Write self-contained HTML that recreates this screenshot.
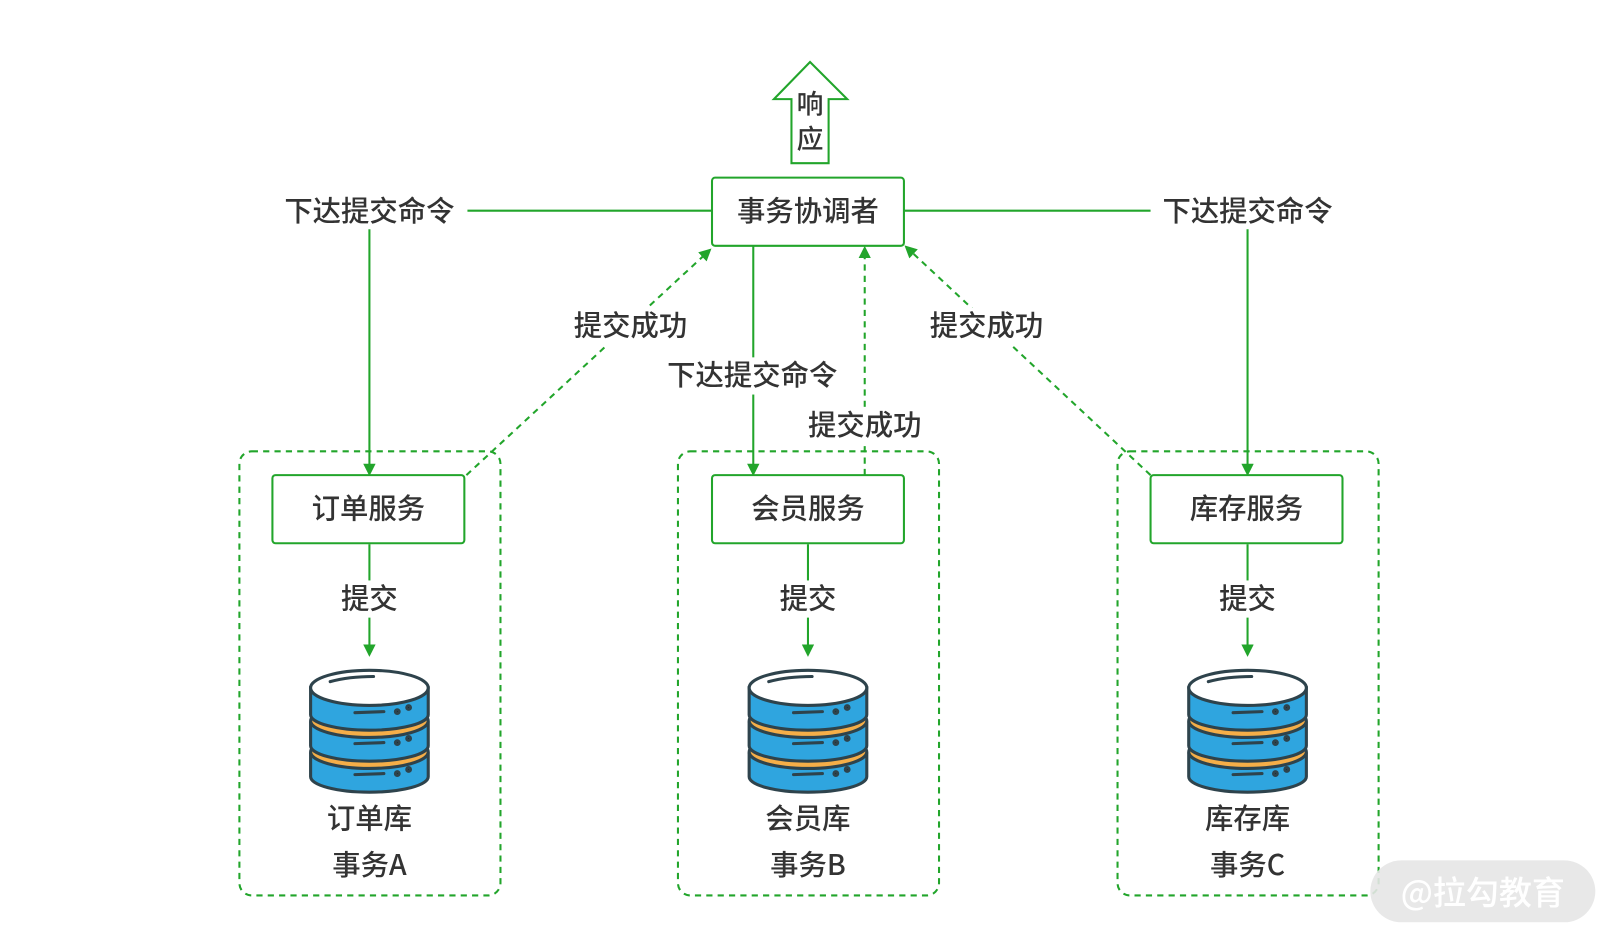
<!DOCTYPE html>
<html><head><meta charset="utf-8"><style>
html,body{margin:0;padding:0;background:#fff;}
svg{display:block;}
text{font-family:"Noto Sans CJK SC","Liberation Sans",sans-serif;fill:#333;font-weight:500;}
</style></head><body>
<svg width="1618" height="944" viewBox="0 0 1568 914" preserveAspectRatio="none" xmlns="http://www.w3.org/2000/svg">
<defs>
<marker id="ar" markerWidth="12" markerHeight="12" refX="10" refY="6" orient="auto" markerUnits="userSpaceOnUse">
<path d="M0,0 L12,6 L0,12 Z" fill="#22a52b"/>
</marker>
<g id="db" stroke="#2e434c" stroke-width="3">
<path d="M-57,82 L-57,104 A57,15 0 0 0 57,104 L57,82 Z" fill="#2fa5df"/>
<ellipse cx="0" cy="80" rx="57" ry="16" fill="#f5ae48"/>
<path d="M-57,52 L-57,74 A57,15 0 0 0 57,74 L57,52 Z" fill="#2fa5df"/>
<ellipse cx="0" cy="50" rx="57" ry="16" fill="#f5ae48"/>
<path d="M-57,18 L-57,44 A57,15 0 0 0 57,44 L57,18 Z" fill="#2fa5df"/>
<ellipse cx="0" cy="18" rx="57" ry="17" fill="#fff"/>
<path d="M-38,12 Q-20,7 4,7" fill="none" stroke-linecap="round"/>
<path d="M-14,42 L14,41 M-14,72 L14,71 M-14,102 L14,101" fill="none" stroke-linecap="round"/>
<circle cx="27" cy="41" r="1.8"/><circle cx="38" cy="37" r="1.8"/>
<circle cx="27" cy="71" r="1.8"/><circle cx="38" cy="67" r="1.8"/>
<circle cx="27" cy="101" r="1.8"/><circle cx="38" cy="97" r="1.8"/>
</g>
</defs>
<g fill="none" stroke="#22a52b" stroke-width="2">
<path d="M785,60 L821,96 L803,96 L803,158 L767,158 L767,96 L750,96 Z" fill="#fff"/>
<rect x="690" y="172" width="186" height="66" rx="3" fill="#fff"/>
<line x1="453" y1="204" x2="690" y2="204"/>
<line x1="876" y1="204" x2="1115" y2="204"/>
<line x1="358" y1="222" x2="358" y2="459" marker-end="url(#ar)"/>
<line x1="1209" y1="222" x2="1209" y2="459" marker-end="url(#ar)"/>
<line x1="730" y1="238" x2="730" y2="459" marker-end="url(#ar)"/>
<g stroke-dasharray="6,5">
<line x1="838" y1="460" x2="838" y2="240" marker-end="url(#ar)"/>
<line x1="452" y1="460" x2="688" y2="242" marker-end="url(#ar)"/>
<line x1="1115" y1="460" x2="878" y2="239" marker-end="url(#ar)"/>
<rect x="232" y="437" width="253" height="430" rx="12"/>
<rect x="657" y="437" width="253" height="430" rx="12"/>
<rect x="1083" y="437" width="253" height="430" rx="12"/>
</g>
<rect x="264" y="460" width="186" height="66" rx="3" fill="#fff"/>
<rect x="690" y="460" width="186" height="66" rx="3" fill="#fff"/>
<rect x="1115" y="460" width="186" height="66" rx="3" fill="#fff"/>
<line x1="358" y1="527" x2="358" y2="634" marker-end="url(#ar)"/>
<line x1="783" y1="527" x2="783" y2="634" marker-end="url(#ar)"/>
<line x1="1209" y1="527" x2="1209" y2="634" marker-end="url(#ar)"/>
</g>
<g fill="#fff">
<rect x="553" y="298" width="116" height="36"/>
<rect x="898" y="298" width="116" height="36"/>
<rect x="643" y="346" width="172" height="36"/>
<rect x="780" y="394" width="116" height="36"/>
<rect x="326" y="562" width="64" height="36"/>
<rect x="751" y="562" width="64" height="36"/>
<rect x="1177" y="562" width="64" height="36"/>
</g>
<g font-size="27.5" text-anchor="middle">
<text x="785" y="110" font-size="26">响</text>
<text x="785" y="144" font-size="26">应</text>
<text x="783" y="214">事务协调者</text>
<text x="358" y="214">下达提交命令</text>
<text x="1209" y="214">下达提交命令</text>
<text x="611" y="325">提交成功</text>
<text x="956" y="325">提交成功</text>
<text x="729" y="373">下达提交命令</text>
<text x="838" y="421">提交成功</text>
<text x="357" y="502">订单服务</text>
<text x="783" y="502">会员服务</text>
<text x="1208" y="502">库存服务</text>
<text x="358" y="589">提交</text>
<text x="783" y="589">提交</text>
<text x="1209" y="589">提交</text>
<text x="358" y="802">订单库</text>
<text x="783" y="802">会员库</text>
<text x="1209" y="802">库存库</text>
<text x="358" y="847">事务A</text>
<text x="783" y="847">事务B</text>
<text x="1209" y="847">事务C</text>
</g>
<use href="#db" x="358" y="648"/>
<use href="#db" x="783" y="648"/>
<use href="#db" x="1209" y="648"/>
<rect x="1328" y="833" width="218" height="60" rx="30" fill="#e6e6e6" opacity="0.9"/>
<text x="1437" y="876" font-size="32" text-anchor="middle" style="fill:#fff">@拉勾教育</text>
</svg>
</body></html>
